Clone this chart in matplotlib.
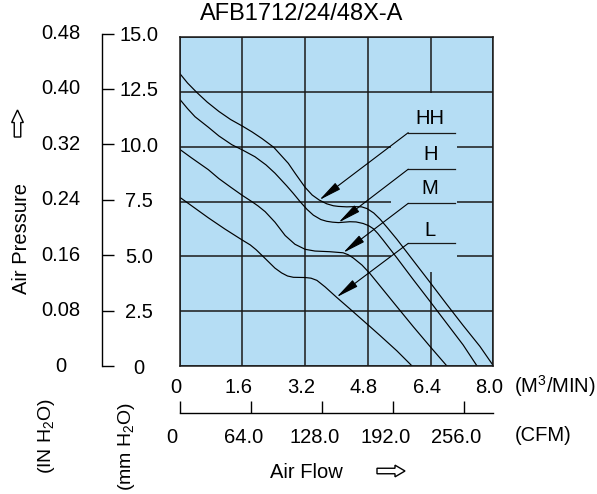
import matplotlib
matplotlib.use('Agg')
import matplotlib.pyplot as plt
from matplotlib.patches import Rectangle, FancyArrow
from matplotlib.transforms import ScaledTranslation, blended_transform_factory

plt.rcParams['font.family'] = ['Liberation Sans', 'DejaVu Sans']
plt.rcParams['mathtext.fontset'] = 'custom'
plt.rcParams['mathtext.rm'] = 'Liberation Sans'
plt.rcParams['mathtext.it'] = 'Liberation Sans'

# P-Q curves, air flow in M3/MIN, pressure in mm H2O
hh_x = [0, 0.2, 0.43, 0.7, 1.0, 1.3, 1.6, 1.85, 2.1, 2.4, 2.77, 2.95, 3.2, 3.38, 3.56, 3.75, 3.92, 4.05, 4.26, 4.45,
        4.64, 4.78, 4.95, 5.11, 5.3, 5.54, 5.96, 6.39, 6.81, 7.23, 7.66, 8.0]
hh_y = [13.36, 12.92, 12.5, 12.05, 11.62, 11.25, 10.95, 10.68, 10.38, 9.98, 9.25, 8.78, 8.15, 7.8, 7.57, 7.4, 7.31, 7.28,
        7.26, 7.27, 7.26, 7.18, 6.98, 6.70, 6.3, 5.78, 4.8, 3.8, 2.81, 1.84, 0.88, 0.0]
h_x = [0, 0.2, 0.39, 0.73, 1.0, 1.33, 1.6, 1.92, 2.2, 2.43, 2.73, 2.9, 3.07, 3.25, 3.41, 3.6, 3.75, 3.9, 4.05, 4.2, 4.34,
       4.5, 4.68, 4.82, 4.94, 5.05, 5.19, 5.54, 5.96, 6.39, 6.81, 7.23, 7.58]
h_y = [12.18, 11.75, 11.38, 10.9, 10.5, 10.1, 9.86, 9.55, 9.18, 8.8, 8.22, 7.87, 7.5, 7.14, 6.88, 6.68, 6.6, 6.56, 6.54,
       6.56, 6.58, 6.57, 6.5, 6.4, 6.26, 6.05, 5.74, 4.93, 3.93, 2.93, 1.94, 0.95, 0.0]
m_x = [0, 0.3, 0.73, 1.0, 1.3, 1.6, 1.84, 2.0, 2.18, 2.43, 2.69, 2.94, 3.2, 3.45, 3.83, 4.17, 4.3, 4.43, 4.65, 4.85,
       5.19, 5.54, 5.96, 6.39, 6.81]
m_y = [9.89, 9.5, 8.96, 8.55, 8.16, 7.78, 7.5, 7.3, 7.04, 6.56, 5.95, 5.55, 5.32, 5.24, 5.21, 5.16, 5.07, 4.92, 4.6,
       4.22, 3.47, 2.7, 1.78, 0.87, 0.0]
l_x = [0, 0.35, 0.73, 1.15, 1.58, 1.8, 1.95, 2.18, 2.43, 2.6, 2.75, 2.9, 3.2, 3.35, 3.5, 3.71, 4.0, 4.34, 4.77, 5.11,
       5.54, 5.92]
l_y = [7.70, 7.25, 6.76, 6.25, 5.76, 5.52, 5.3, 4.9, 4.46, 4.24, 4.1, 4.04, 4.03, 4.0, 3.9, 3.6, 3.13, 2.6, 1.92, 1.38,
       0.68, 0.0]

# labels: name, arrow tip on curve, label height
speed_names = ['HH', 'H', 'M', 'L']
tip_x = [3.56, 4.05, 4.17, 4.0]
tip_y = [7.57, 6.54, 5.16, 3.13]
shelf_y = [10.65, 8.98, 7.42, 5.59]
name_y = [11.31, 9.63, 8.11, 6.20]

flow_ticks = [0, 1.6, 3.2, 4.8, 6.4, 8.0]
flow_labels = ['0', '1.6', '3.2', '4.8', '6.4', '8.0']
cfm_ticks = [0, 64, 128, 192, 256]
cfm_labels = ['0', '64.0', '128.0', '192.0', '256.0']
mm_ticks = [0, 2.5, 5.0, 7.5, 10.0, 12.5, 15.0]
mm_labels = ['0', '2.5', '5.0', '7.5', '10.0', '12.5', '15.0']
in_labels = ['0', '0.08', '0.16', '0.24', '0.32', '0.40', '0.48']

W, H = 597, 494
fs = 14.5

def fx(px):
    return px / W

def fy(py):
    return 1 - py / H

fig = plt.figure(figsize=(W / 100, H / 100), dpi=100)

# main chart
ax = fig.add_axes([fx(179.7), fy(365.7), (493.3 - 179.7) / W, (365.7 - 37.5) / H])
ax.set_facecolor('#b5ddf4')
ax.set_xlim(0, 8)
ax.set_ylim(0, 15)
ax.set_xticks(flow_ticks)
ax.set_xticklabels(flow_labels, fontsize=fs)
ax.set_yticks(mm_ticks)
ax.set_yticklabels([])
ax.tick_params(length=0, pad=8.5)
ax.set_axisbelow(True)
ax.grid(True, color='#1a1a1a', lw=1.1)
for s in ax.spines.values():
    s.set_color('#1a1a1a')
    s.set_linewidth(1.1)
for lab in ax.get_xticklabels():
    lab.set_transform(lab.get_transform() + ScaledTranslation(-0.04, 0, fig.dpi_scale_trans))

# plain box behind the speed labels, hides the grid there
ax.add_patch(Rectangle((5.38, 4.3), 7.08 - 5.38, 12.45 - 4.3, facecolor='#b5ddf4', edgecolor='none', zorder=1))

for xs, ys in [(hh_x, hh_y), (h_x, h_y), (m_x, m_y), (l_x, l_y)]:
    ax.plot(xs, ys, color='black', lw=0.85, zorder=2, solid_joinstyle='round')

for name, tx, ty, sy, ny in zip(speed_names, tip_x, tip_y, shelf_y, name_y):
    ax.plot([5.83, 7.02], [sy, sy], color='#1a1a1a', lw=0.9, zorder=3)
    ax.annotate('', xy=(tx, ty), xytext=(5.83, sy),
                arrowprops=dict(arrowstyle='-|>,head_length=1.4,head_width=0.25', color='black',
                                lw=0.8, shrinkA=0, shrinkB=0, mutation_scale=10), zorder=3)
    ax.text(6.39, ny, name, ha='center', va='center', fontsize=fs, zorder=3)

# mm H2O scale
ax2 = fig.add_axes([fx(101.7), fy(366), 0.0001, (366 - 33.5) / H])
ax2.set_ylim(0, 15)
ax2.set_xticks([])
for side in ['top', 'bottom', 'right']:
    ax2.spines[side].set_visible(False)
ax2.spines['left'].set_linewidth(1.0)
ax2.set_yticks(mm_ticks)
ax2.set_yticklabels(mm_labels, fontsize=fs)
ax2.tick_params(axis='y', left=True, labelleft=False, right=False, labelright=True,
                direction='in', length=8.4, width=1.0, pad=27)
for lab in ax2.get_yticklabels():
    lab.set_horizontalalignment('center')

# IN H2O labels (no axis line)
tr = blended_transform_factory(fig.transFigure, ax2.transData)
for v, lab in zip(mm_ticks, in_labels):
    fig.text(fx(61), v, lab, transform=tr, ha='center', va='center', fontsize=fs)

# CFM scale
ax3 = fig.add_axes([fx(179.7), fy(413.3), (493.3 - 179.7) / W, 0.0001])
ax3.set_xlim(0, 8 * 35.315)
ax3.set_yticks([])
for side in ['top', 'left', 'right']:
    ax3.spines[side].set_visible(False)
ax3.spines['bottom'].set_linewidth(1.0)
ax3.set_xticks(cfm_ticks)
ax3.set_xticklabels(cfm_labels, fontsize=fs)
ax3.tick_params(axis='x', direction='in', length=8.4, width=1.0, pad=10.5)
for lab in ax3.get_xticklabels():
    lab.set_transform(lab.get_transform() + ScaledTranslation(-0.075, 0, fig.dpi_scale_trans))

# texts
fig.text(fx(301.5), fy(14), 'AFB1712/24/48X-A', ha='center', va='center', fontsize=17)
fig.text(fx(22), fy(238), 'Air Pressure', rotation=90, ha='center', va='center', fontsize=fs)
fig.text(fx(46.7), fy(436), '(IN H$_2$O)', rotation=90, ha='center', va='center', fontsize=14)
fig.text(fx(126.7), fy(446), '(mm H$_2$O)', rotation=90, ha='center', va='center', fontsize=14)
fig.text(fx(555), fy(386), '(M$^3$/MIN)', ha='center', va='center', fontsize=fs)
fig.text(fx(543), fy(435), '(CFM)', ha='center', va='center', fontsize=fs)
fig.text(fx(306.7), fy(472), 'Air Flow', ha='center', va='center', fontsize=fs)

# hollow arrows next to the axis names
fig.add_artist(FancyArrow(17.5 / 100, (H - 137) / 100, 0, 27 / 100, width=6.5 / 100,
                          head_width=11.7 / 100, head_length=12.5 / 100, length_includes_head=True,
                          fill=False, ec='black', lw=1.0, transform=fig.dpi_scale_trans))
fig.add_artist(FancyArrow(377 / 100, (H - 471) / 100, 28 / 100, 0, width=5.5 / 100,
                          head_width=11.7 / 100, head_length=10 / 100, length_includes_head=True,
                          fill=False, ec='black', lw=1.0, transform=fig.dpi_scale_trans))

fig.savefig('out.png', dpi=100)
